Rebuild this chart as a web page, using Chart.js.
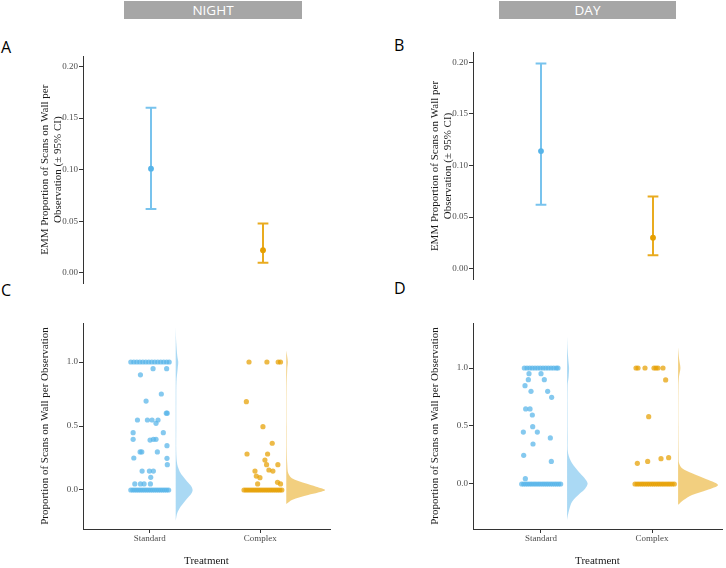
<!DOCTYPE html>
<html><head><meta charset="utf-8">
<script src="https://cdn.jsdelivr.net/npm/chart.js@4/dist/chart.umd.min.js"></script>
<style>
body{margin:0;background:#fff;}
#wrap{position:relative;width:726px;height:568px;overflow:hidden;background:#fff;}
canvas{position:absolute;}
.strip{position:absolute;top:1px;height:18px;background:#a6a6a6;color:#fff;font:13.5px "Open Sans",sans-serif;text-align:center;line-height:18px;}
.lbl{position:absolute;font:16px "Open Sans",sans-serif;line-height:16px;color:#000;}
</style></head><body>
<div id="wrap">
<div class="strip" style="left:124px;width:178px;">NIGHT</div>
<div class="strip" style="left:499px;width:177px;">DAY</div>
<div class="lbl" style="left:1px;top:39px;">A</div>
<div class="lbl" style="left:394px;top:37px;">B</div>
<div class="lbl" style="left:1px;top:282px;">C</div>
<div class="lbl" style="left:394px;top:280px;">D</div>
<canvas id="cA" width="335" height="240" style="left:0;top:50px;width:335px;height:240px"></canvas>
<canvas id="cB" width="336" height="240" style="left:390px;top:46px;width:336px;height:240px"></canvas>
<canvas id="cC" width="335" height="268" style="left:0;top:300px;width:335px;height:268px"></canvas>
<canvas id="cD" width="336" height="268" style="left:390px;top:300px;width:336px;height:268px"></canvas>
</div>
<script>
// ---------------- DATA ----------------
const treatments = ['Standard', 'Complex'];

// Panels A/B: estimated marginal means with 95% CI
const nightEmm   = [0.101, 0.022];
const nightLower = [0.062, 0.010];
const nightUpper = [0.160, 0.048];
const dayEmm     = [0.114, 0.030];
const dayLower   = [0.062, 0.013];
const dayUpper   = [0.199, 0.070];
const emmTicks   = [0, 0.05, 0.10, 0.15, 0.20];
const propTicks  = [0, 0.5, 1.0];

const nightStdJit = [-0.171,-0.144,-0.117,-0.090,-0.063,-0.036,-0.009,0.018,0.045,0.072,0.099,0.126,0.153,0.176,
  0.030,0.153,-0.084,0.105,-0.033,0.150,0.158,-0.111,-0.021,0.021,0.075,0.057,-0.150,0.123,-0.150,0.003,0.033,0.057,
  0.156,-0.087,-0.072,0.069,-0.144,0.156,0.159,-0.069,-0.003,0.033,0.009,-0.135,-0.084,-0.051,0.006,
  -0.171,-0.153,-0.135,-0.117,-0.099,-0.081,-0.063,-0.045,-0.027,-0.009,0.009,0.027,0.045,0.063,0.081,0.099,0.117,0.135,0.153,0.171];
const nightStdVal = [1,1,1,1,1,1,1,1,1,1,1,1,1,1,
  0.948,0.948,0.90,0.75,0.695,0.60,0.60,0.547,0.547,0.547,0.547,0.521,0.448,0.448,0.396,0.39,0.396,0.396,
  0.346,0.297,0.297,0.297,0.25,0.247,0.198,0.148,0.148,0.148,0.099,0.047,0.047,0.047,0.047,
  0,0,0,0,0,0,0,0,0,0,0,0,0,0,0,0,0,0,0,0];

const nightCpxJit = [-0.102,0.060,0.162,0.183,
  -0.126,0.024,0.108,-0.120,0.066,0.042,0.057,0.159,0.078,0.114,-0.048,-0.036,-0.003,-0.024,0.156,0.183,
  -0.147,-0.129,-0.111,-0.093,-0.075,-0.057,-0.039,-0.021,-0.003,0.015,0.033,0.051,0.069,0.087,0.105,0.123,0.141,0.159,0.177,0.195];
const nightCpxVal = [1,1,1,1,
  0.69,0.495,0.365,0.281,0.281,0.234,0.198,0.198,0.156,0.148,0.148,0.109,0.096,0.047,0.06,0.047,
  0,0,0,0,0,0,0,0,0,0,0,0,0,0,0,0,0,0,0,0];

const dayStdJit = [-0.150,-0.126,-0.102,-0.078,-0.054,-0.030,-0.006,0.018,0.042,0.066,0.090,0.114,0.138,0.153,
  -0.108,0,-0.114,0.030,-0.144,-0.090,0.060,0.096,-0.138,-0.099,-0.078,-0.075,-0.159,-0.033,0.084,-0.072,-0.156,0.093,-0.141,
  -0.174,-0.156,-0.137,-0.119,-0.100,-0.082,-0.063,-0.045,-0.026,-0.008,0.011,0.029,0.048,0.066,0.085,0.103,0.122,0.140,0.159,0.177];
const dayStdVal = [1,1,1,1,1,1,1,1,1,1,1,1,1,1,
  0.951,0.951,0.899,0.899,0.848,0.799,0.799,0.747,0.647,0.647,0.595,0.494,0.448,0.448,0.397,0.345,0.247,0.195,0.046,
  0,0,0,0,0,0,0,0,0,0,0,0,0,0,0,0,0,0,0,0];

const dayCpxJit = [-0.144,-0.126,-0.063,0.018,0.036,0.054,0.099,
  0.123,-0.030,-0.132,-0.039,0.081,0.150,
  -0.153,-0.134,-0.116,-0.097,-0.079,-0.060,-0.041,-0.023,-0.004,0.014,0.033,0.052,0.070,0.089,0.107,0.126,0.145,0.163,0.182,0.201];
const dayCpxVal = [1,1,1,1,1,1,1,
  0.897,0.58,0.178,0.195,0.218,0.227,
  0,0,0,0,0,0,0,0,0,0,0,0,0,0,0,0,0,0,0,0];

// Half-violin density profiles (proportion level, half-width in category units)
const nightStdVioY = [-0.24,-0.18,-0.13,-0.1,-0.065,-0.03,0,0.03,0.065,0.1,0.13,0.2,0.3,0.5,0.7,0.85,0.95,1.0,1.05,1.15,1.27];
const nightStdVioW = [0,0.014,0.045,0.072,0.105,0.140,0.153,0.140,0.105,0.072,0.045,0.014,0.005,0.005,0.005,0.007,0.018,0.023,0.014,0.005,0];
const nightCpxVioY = [-0.11,-0.078,-0.039,-0.02,0,0.025,0.052,0.091,0.13,0.2,0.3,0.5,0.8,0.95,1.0,1.04,1.09];
const nightCpxVioW = [0,0.051,0.198,0.288,0.351,0.270,0.171,0.051,0.018,0.009,0.005,0.004,0.004,0.009,0.014,0.009,0];
const dayStdVioY = [-0.31,-0.27,-0.224,-0.152,-0.08,-0.04,0.005,0.05,0.092,0.178,0.265,0.4,0.6,0.85,0.925,1.0,1.04,1.15,1.27];
const dayStdVioW = [0,0.007,0.018,0.045,0.117,0.162,0.185,0.158,0.117,0.045,0.009,0.005,0.004,0.005,0.014,0.018,0.014,0.005,0];
const dayCpxVioY = [-0.18,-0.138,-0.095,-0.052,-0.009,0.049,0.092,0.135,0.178,0.25,0.5,0.85,0.93,1.0,1.08,1.18];
const dayCpxVioW = [0,0.050,0.126,0.261,0.360,0.234,0.126,0.036,0.009,0.005,0.003,0.004,0.009,0.021,0.009,0];

// ---------------- STYLE ----------------
const BLUE = '#56B4E9', ORANGE = '#E69F00';
const BLUE_PT = 'rgba(86,180,233,0.72)', ORANGE_PT = 'rgba(230,159,0,0.72)';
const BLUE_VIO = 'rgba(86,180,233,0.5)', ORANGE_VIO = 'rgba(230,159,0,0.5)';
const BLUE_CI = 'rgba(86,180,233,0.8)', ORANGE_CI = 'rgba(230,159,0,0.88)';
const SERIF = '"Liberation Serif","Times New Roman",serif';
const CAP = 0.048, NUDGE = 0.235;
const catPos = treatments.map((_, i) => i + 1);

function yAxis(min, max, ticks, text, dec, padTop) {
  return {
    type: 'linear', min, max,
    afterFit: s => { s.width = 83; },
    afterBuildTicks: s => { s.ticks = ticks.map(v => ({value: v})); },
    grid: {drawOnChartArea: false, drawTicks: true, tickLength: 4, color: '#333', lineWidth: 1},
    border: {display: true, color: '#333', width: 1},
    ticks: {font: {family: SERIF, size: 9}, color: '#4d4d4d', padding: 1, callback: v => Number(v).toFixed(dec)},
    title: {display: true, text, font: {family: SERIF, size: 11, lineHeight: 1.15}, color: '#1a1a1a', padding: {top: padTop, bottom: 0}}
  };
}
function xAxisCat(min, max) {
  return {
    type: 'linear', min, max,
    afterFit: s => { s.height = 39; },
    afterBuildTicks: s => { s.ticks = catPos.map(v => ({value: v})); },
    grid: {drawOnChartArea: false, drawTicks: true, tickLength: 4, color: '#333', lineWidth: 1},
    border: {display: true, color: '#333', width: 1},
    ticks: {font: {family: SERIF, size: 9}, color: '#4d4d4d', padding: 0, maxRotation: 0, autoSkip: false,
            callback: v => treatments[Math.round(v) - 1]},
    title: {display: true, text: 'Treatment', font: {family: SERIF, size: 11, lineHeight: 1.2}, color: '#1a1a1a', padding: {top: 0, bottom: 0}}
  };
}
function baseOpts(padding, scales) {
  return {
    type: 'line',
    options: {
      responsive: false, animation: false, devicePixelRatio: 1,
      layout: {padding},
      plugins: {legend: {display: false}, tooltip: {enabled: false}},
      events: [],
      scales
    }
  };
}
function emmDatasets(emm, lo, hi) {
  const ds = [];
  const cols = [BLUE_CI, ORANGE_CI], pcols = [BLUE, ORANGE];
  emm.forEach((m, i) => {
    const c = catPos[i];
    ds.push({data: [{x: c - CAP, y: lo[i]}, {x: c + CAP, y: lo[i]}, {x: c, y: lo[i]}, {x: c, y: hi[i]}, {x: c - CAP, y: hi[i]}, {x: c + CAP, y: hi[i]}],
      borderColor: cols[i], borderWidth: 2, pointRadius: 0, fill: false, tension: 0, order: 2});
    ds.push({data: [{x: c, y: m}], showLine: false, pointRadius: 2.9, pointBorderWidth: 0,
      pointBackgroundColor: pcols[i], order: 1});
  });
  return ds;
}
function pointsDs(i, jit, val, col) {
  return {data: val.map((v, k) => ({x: catPos[i] + jit[k], y: v})), showLine: false,
    pointRadius: 2.6, pointBorderWidth: 0, pointBackgroundColor: col, order: 1};
}
function violinDs(i, ys, ws, col) {
  const b = catPos[i] + NUDGE;
  return {data: ys.map((y, k) => ({x: b + ws[k], y})), borderWidth: 0, borderColor: 'rgba(0,0,0,0)',
    pointRadius: 0, fill: 'shape', backgroundColor: col, tension: 0.3, order: 3};
}

// Panel A
let cfg = baseOpts({top: 6, right: 5, bottom: 7, left: 0}, {
  x: {type: 'linear', display: false, min: 0.393, max: 2.598},
  y: yAxis(-0.0097, 0.2097, emmTicks, ['EMM Proportion of Scans on Wall per', 'Observation (± 95% CI)'], 2, 38.7)
});
cfg.data = {datasets: emmDatasets(nightEmm, nightLower, nightUpper)};
new Chart(document.getElementById('cA'), cfg);

// Panel B
cfg = baseOpts({top: 6, right: 4, bottom: 6, left: 0}, {
  x: {type: 'linear', display: false, min: 0.393, max: 2.616},
  y: yAxis(-0.0106, 0.2097, emmTicks, ['EMM Proportion of Scans on Wall per', 'Observation (± 95% CI)'], 2, 38.9)
});
cfg.data = {datasets: emmDatasets(dayEmm, dayLower, dayUpper)};
new Chart(document.getElementById('cB'), cfg);

// Panel C
cfg = baseOpts({top: 23, right: 5, bottom: 0, left: 0}, {
  x: xAxisCat(0.3964, 2.6306),
  y: yAxis(-0.305, 1.305, propTicks, 'Proportion of Scans on Wall per Observation', 1, 38.7)
});
cfg.data = {datasets: [
  pointsDs(0, nightStdJit, nightStdVal, BLUE_PT),
  pointsDs(1, nightCpxJit, nightCpxVal, ORANGE_PT),
  violinDs(0, nightStdVioY, nightStdVioW, BLUE_VIO),
  violinDs(1, nightCpxVioY, nightCpxVioW, ORANGE_VIO)
]};
new Chart(document.getElementById('cC'), cfg);

// Panel D
cfg = baseOpts({top: 23, right: 4, bottom: 0, left: 0}, {
  x: xAxisCat(0.3874, 2.6306),
  y: yAxis(-0.388, 1.388, propTicks, 'Proportion of Scans on Wall per Observation', 1, 39.2)
});
cfg.data = {datasets: [
  pointsDs(0, dayStdJit, dayStdVal, BLUE_PT),
  pointsDs(1, dayCpxJit, dayCpxVal, ORANGE_PT),
  violinDs(0, dayStdVioY, dayStdVioW, BLUE_VIO),
  violinDs(1, dayCpxVioY, dayCpxVioW, ORANGE_VIO)
]};
new Chart(document.getElementById('cD'), cfg);
</script>
</body></html>
